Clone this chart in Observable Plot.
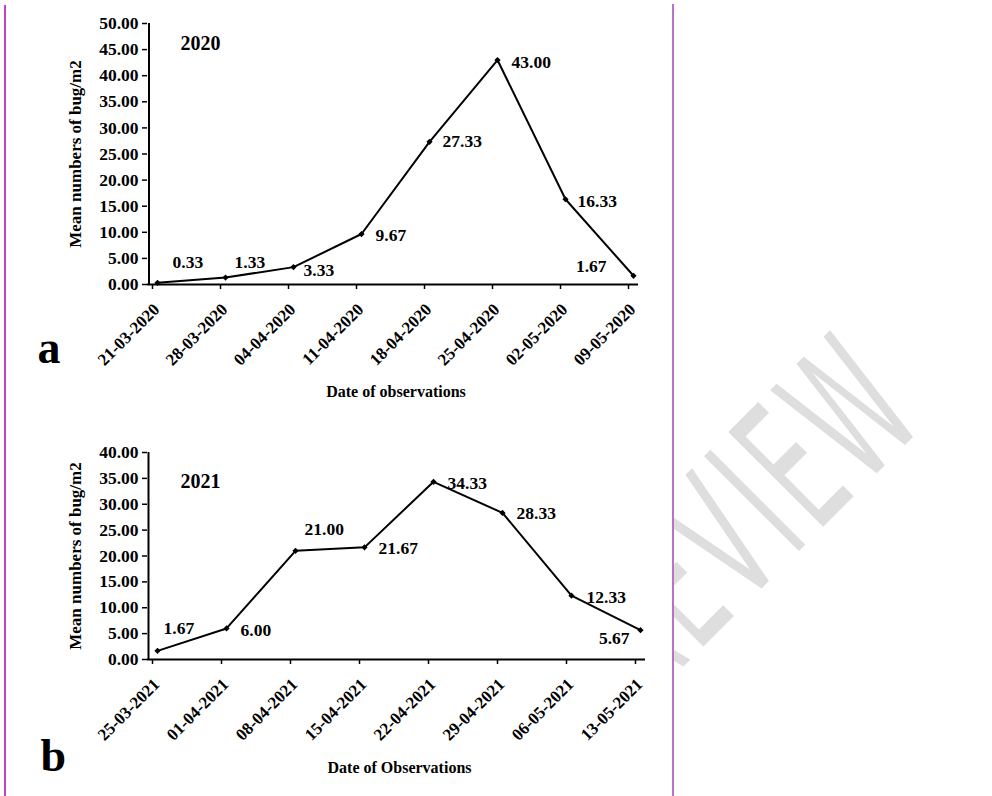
<!DOCTYPE html>
<html>
<head>
<meta charset="utf-8">
<script src="https://cdn.jsdelivr.net/npm/d3@7"></script>
<script src="https://cdn.jsdelivr.net/npm/@observablehq/plot@0.6"></script>
<style>
  html, body { margin: 0; padding: 0; background: #fff; }
  #page { position: relative; width: 992px; height: 796px; overflow: hidden; background: #fff; }
  .panel { position: absolute; left: 0; }
  .vline { position: absolute; width: 2px; }
  #wm { position: absolute; left: 674px; top: 0; width: 318px; height: 796px; overflow: hidden; }
</style>
</head>
<body>
<div id="page">
  <div id="wm"></div>
  <div class="panel" id="panelA" style="top:0px"></div>
  <div class="panel" id="panelB" style="top:400px"></div>
  <div class="vline" style="left:4px; top:5px; height:791px; background:#c445c4"></div>
  <div class="vline" style="left:672px; top:4px; height:792px; background:#b872c8"></div>
</div>
<script>
// ---------------- data ----------------
const datesA = ["21-03-2020", "28-03-2020", "04-04-2020", "11-04-2020", "18-04-2020", "25-04-2020", "02-05-2020", "09-05-2020"];
const valuesA = [0.33, 1.33, 3.33, 9.67, 27.33, 43.00, 16.33, 1.67];
const yTicksA = [0, 5, 10, 15, 20, 25, 30, 35, 40, 45, 50];

const datesB = ["25-03-2021", "01-04-2021", "08-04-2021", "15-04-2021", "22-04-2021", "29-04-2021", "06-05-2021", "13-05-2021"];
const valuesB = [1.67, 6.00, 21.00, 21.67, 34.33, 28.33, 12.33, 5.67];
const yTicksB = [0, 5, 10, 15, 20, 25, 30, 35, 40];

const yTitle = "Mean numbers of bug/m2";
const xTitleA = "Date of observations";
const xTitleB = "Date of Observations";
const yearA = "2020";
const yearB = "2021";

// ---------------- layout / style ----------------
const FONT = "'Liberation Serif', 'Times New Roman', serif";
const fmt = d3.format(".2f");
const labelOffsetsA = [[15,-20,"start"],[9,-15,"start"],[10,3,"start"],[14,1,"start"],[13,0,"start"],[14,2,"start"],[12,2,"start"],[-27,-9,"end"]];
const labelOffsetsB = [[6,-22,"start"],[14,2,"start"],[9,-21,"start"],[14,1,"start"],[14,2,"start"],[14,0,"start"],[15,2,"start"],[-11,8,"end"]];

function panel(cfg) {
  const data = cfg.dates.map((d, i) => ({date: d, value: cfg.values[i]}));
  const yMax = cfg.yTicks[cfg.yTicks.length - 1];
  const shift = 5; // markers sit slightly right of ticks in the original
  return Plot.plot({
    width: 680,
    height: cfg.height,
    marginTop: cfg.marginTop,
    marginBottom: cfg.marginBottom,
    marginLeft: 147,
    marginRight: 680 - cfg.axisEnd,
    style: {fontFamily: FONT, fontWeight: "bold", fontSize: "17px", color: "#000", background: "transparent", overflow: "visible"},
    x: {type: "point", domain: cfg.dates, range: cfg.xRange, padding: 0, align: 0.5},
    y: {domain: [0, yMax]},
    marks: [
      Plot.axisY({ticks: cfg.yTicks, tickSize: 5, tickPadding: 4, tickFormat: fmt, label: null, fontSize: 17.5, strokeWidth: 1.5}),
      Plot.axisX({tickSize: 5, tickFormat: () => "", label: null, strokeWidth: 1.5}),
      Plot.ruleX([cfg.dates[0]], {dx: 147 - cfg.xRange[0], stroke: "#000", strokeWidth: 2}),
      Plot.ruleY([0], {stroke: "#000", strokeWidth: 2}),
      Plot.text(cfg.dates, {x: d => d, y: () => 0, text: d => d, rotate: -45, textAnchor: "end", lineAnchor: "bottom", dx: 8, dy: 26, fontSize: 17}),
      Plot.line(data, {x: "date", y: "value", stroke: "#000", strokeWidth: 2, dx: shift}),
      Plot.dot(data, {x: "date", y: "value", symbol: "diamond2", r: 2.8, fill: "#000", stroke: "none", dx: shift}),
      ...data.map((d, i) => Plot.text([d], {
        x: "date", y: "value", text: v => fmt(v.value),
        dx: shift + cfg.labelOffsets[i][0], dy: cfg.labelOffsets[i][1],
        textAnchor: cfg.labelOffsets[i][2], fontSize: 17.5
      })),
      Plot.text([cfg.year], {frameAnchor: "top-left", dx: 33, dy: cfg.yearDy, textAnchor: "start", fontSize: 20}),
      Plot.text([yTitle], {frameAnchor: "left", rotate: -90, textAnchor: "middle", dx: -72, fontSize: 17}),
      Plot.text([cfg.xTitle], {frameAnchor: "bottom", textAnchor: "middle", dx: 3, dy: cfg.xTitleDy, fontSize: 16}),
      Plot.text([cfg.letter], {frameAnchor: "bottom-left", dx: cfg.letterDx, dy: cfg.letterDy, textAnchor: "start", lineAnchor: "bottom", fontSize: 46})
    ]
  });
}

document.getElementById("panelA").appendChild(panel({
  dates: datesA, values: valuesA, yTicks: yTicksA, year: yearA, xTitle: xTitleA, letter: "a",
  height: 400, marginTop: 23, marginBottom: 116, axisEnd: 638, xRange: [150.5, 629],
  labelOffsets: labelOffsetsA, yearDy: 12, xTitleDy: 112, letterDx: -110, letterDy: 78
}));

document.getElementById("panelB").appendChild(panel({
  dates: datesB, values: valuesB, yTicks: yTicksB, year: yearB, xTitle: xTitleB, letter: "b",
  height: 396, marginTop: 52, marginBottom: 137, axisEnd: 645, xRange: [151, 635],
  labelOffsets: labelOffsetsB, yearDy: 21, xTitleDy: 113, letterDx: -107, letterDy: 111
}));

// watermark (decoration, clipped to the right of the figure)
const wm = d3.select("#wm").append("svg").attr("width", 318).attr("height", 796);
wm.append("g").attr("transform", "translate(-674,0)")
  .append("text")
  .attr("transform", "translate(932,418) rotate(-45) scale(0.5,1)")
  .attr("text-anchor", "end")
  .attr("font-family", "'DejaVu Sans', sans-serif")
  .attr("font-size", 184)
  .attr("letter-spacing", 14)
  .attr("fill", "#dedede")
  .text("PREVIEW");
</script>
</body>
</html>
